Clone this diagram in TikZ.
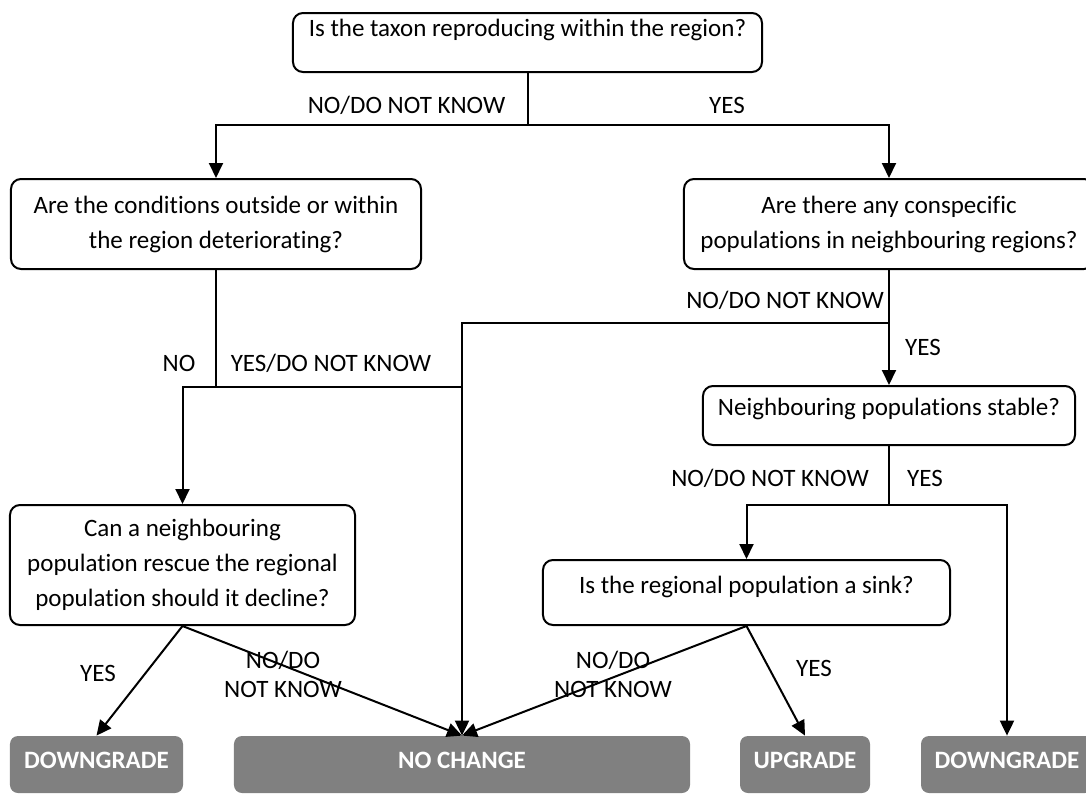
\documentclass[tikz,border=0pt]{standalone}
\usepackage{fontspec}
\setmainfont{Carlito}[Ligatures={NoCommon}]
\usetikzlibrary{arrows.meta}
\definecolor{termgray}{HTML}{808080}
\begin{document}
\begin{tikzpicture}[x=0.5bp,y=-0.5bp,
  font=\fontsize{12.5bp}{17.5bp}\selectfont,
  qbox/.style={draw, line width=1bp, rounded corners=5bp, align=center, inner sep=0pt},
  term/.style={fill=termgray, rounded corners=4bp, text=white,
    font=\fontsize{12.5bp}{14bp}\selectfont\bfseries, minimum height=28.5bp,
    text height=8bp, text depth=4.5bp, inner sep=0pt},
  lbl/.style={inner sep=0pt, text height=8bp, text depth=0pt},
  lbltwo/.style={inner sep=0pt, align=center, font=\fontsize{12.5bp}{14.5bp}\selectfont},
  conn/.style={line width=1bp},
  arr/.style={conn, -{Triangle[length=7.5bp,width=7bp]}}]
\useasboundingbox (0,0) rectangle (1086,794);

% question boxes
\node[qbox, minimum width=234.5bp, minimum height=29.5bp, text height=8bp, text depth=14bp] (top) at (527.5,42.5) {Is the taxon reproducing within the region?};
\node[qbox, minimum width=205bp, minimum height=45bp] (cond) at (216,224) {Are the conditions outside or within\\the region deteriorating?};
\node[qbox, minimum width=205bp, minimum height=45bp] (consp) at (889,224) {Are there any conspecific\\populations in neighbouring regions?};
\node[qbox, minimum width=186bp, minimum height=29.5bp, text height=8bp, text depth=8bp] (neigh) at (889,415.5) {Neighbouring populations stable?};
\node[qbox, minimum width=172.5bp, minimum height=60bp] (can) at (182.5,565) {Can a neighbouring\\population rescue the regional\\population should it decline?};
\node[qbox, minimum width=203.5bp, minimum height=32.5bp, text height=8bp, text depth=7bp] (sink) at (746.5,592.5) {Is the regional population a sink?};

% terminal boxes
\node[term, minimum width=86.5bp] (dg1) at (96.5,764.5) {DOWNGRADE};
\node[term, minimum width=228bp] (nc) at (462,764.5) {NO CHANGE};
\node[term, minimum width=65bp] (up) at (805,764.5) {UPGRADE};
\node[term, minimum width=86bp] (dg2) at (1007,764.5) {DOWNGRADE};

% junctions
\coordinate (j1) at (527.5,125);
\coordinate (j2) at (216,387);
\coordinate (j4) at (889,323);
\coordinate (j5) at (889,505);

% connectors
\draw[conn] (top.south) -- (j1);
\draw[arr] (j1) -| (cond.north);
\draw[arr] (j1) -| (consp.north);
\draw[conn] (cond.south) -- (j2);
\draw[arr] (j2) -| (can.north);
\draw[conn] (j2) -- (j2 -| nc.north);
\draw[arr] (consp.south) -- (consp.south |- neigh.north);
\draw[arr] (j4) -| (nc.north);
\draw[conn] (neigh.south) -- (j5);
\draw[arr] (j5) -| (sink.north);
\draw[arr] (j5) -| (dg2.north);
\draw[arr] (can.south) -- (dg1.north);
\draw[arr] (can.south) -- (nc.north);
\draw[arr] (sink.south) -- (nc.north);
\draw[arr] (sink.south) -- (up.north);

% labels
\node[lbl] (l1) at (406.5,105) {NO/DO NOT KNOW};
\node[lbl] (l2) at (727,105) {YES};
\node[lbl] (l3) at (179,363) {NO};
\node[lbl] (l4) at (331,363) {YES/DO NOT KNOW};
\node[lbl] (l5) at (785,300) {NO/DO NOT KNOW};
\node[lbl] (l6) at (923,347) {YES};
\node[lbl] (l7) at (770,478) {NO/DO NOT KNOW};
\node[lbl] (l8) at (925,478) {YES};
\node[lbl] (l9) at (98,673) {YES};
\node[lbltwo] (l10) at (283,674.5) {NO/DO\\NOT KNOW};
\node[lbl] (l11) at (814,668) {YES};
\node[lbltwo] (l12) at (613,674.5) {NO/DO\\NOT KNOW};
\end{tikzpicture}
\end{document}
